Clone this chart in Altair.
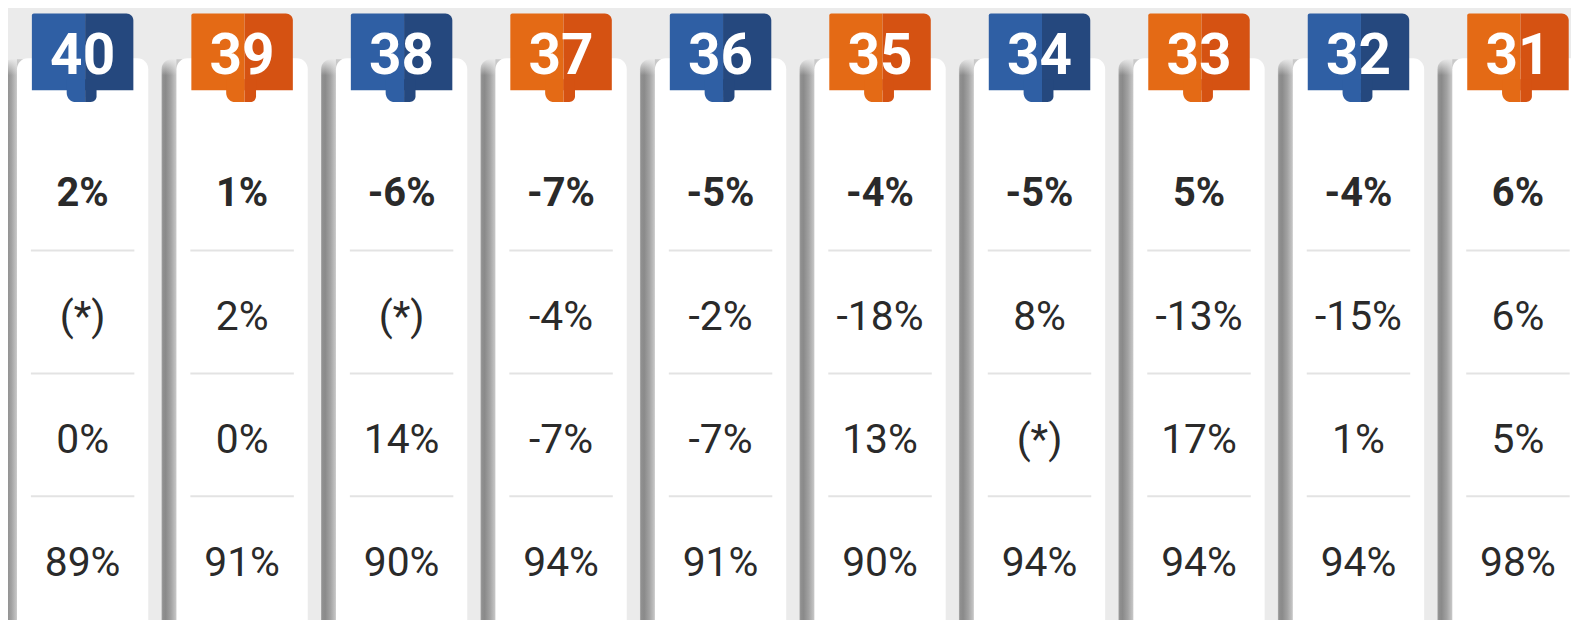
import altair as alt
import pandas as pd

# ---------------- data ----------------
weeks = [40, 39, 38, 37, 36, 35, 34, 33, 32, 31]
tab_kind = ["blue", "orange", "blue", "orange", "blue", "orange", "blue", "orange", "blue", "orange"]
row1 = ["2%", "1%", "-6%", "-7%", "-5%", "-4%", "-5%", "5%", "-4%", "6%"]
row2 = ["(*)", "2%", "(*)", "-4%", "-2%", "-18%", "8%", "-13%", "-15%", "6%"]
row3 = ["0%", "0%", "14%", "-7%", "-7%", "13%", "(*)", "17%", "1%", "5%"]
row4 = ["89%", "91%", "90%", "94%", "91%", "90%", "94%", "94%", "94%", "98%"]
rows = [row1, row2, row3, row4]

# ---------------- layout (pixels -> scale units) ----------------
W, H = 1571, 612
PITCH, X0 = 160.3, 75.0      # column pitch / centre of first column
ROWH, Y0 = 123.5, 183.0      # row pitch / centre of first row


def ux(px):
    return px / PITCH


def uy(py_chart):
    return (py_chart - Y0) / ROWH


xscale = alt.Scale(domain=[-X0 / PITCH, (W - X0) / PITCH], nice=False, zero=False)
yscale = alt.Scale(domain=[-Y0 / ROWH, (H - Y0) / ROWH], nice=False, zero=False, reverse=True)

light = {"blue": "#2f5fa4", "orange": "#e46a15"}
dark = {"blue": "#25487e", "orange": "#d55212"}

cols = pd.DataFrame({
    "i": list(range(len(weeks))),
    "week": [str(w) for w in weeks],
    "light": [light[k] for k in tab_kind],
    "dark": [dark[k] for k in tab_kind],
})

cells = pd.DataFrame([
    {"i": i, "r": r, "label": rows[r][i]}
    for r in range(len(rows)) for i in range(len(weeks))
])
seps = pd.DataFrame([{"i": i, "r": r} for r in range(3) for i in range(len(weeks))])

X = lambda f: alt.X(f, type="quantitative", scale=xscale, axis=None)
Y = lambda f: alt.Y(f, type="quantitative", scale=yscale, axis=None)

base = alt.Chart(cols)

card_top = uy(49)
bottom = uy(H + 40)

shadow = base.transform_calculate(
    x1=f"datum.i - {ux(81)}", x2=f"datum.i - {ux(60)}",
    y1=f"{uy(50)}", y2=f"{bottom}",
).mark_rect(
    cornerRadiusTopLeft=10,
    color=alt.LinearGradient(
        gradient="linear", x1=0, x2=1, y1=0, y2=0,
        stops=[
            alt.GradientStop(color="#b0b0b0", offset=0),
            alt.GradientStop(color="#909090", offset=0.06),
            alt.GradientStop(color="#8a8a8a", offset=0.2),
            alt.GradientStop(color="#a2a2a2", offset=0.45),
            alt.GradientStop(color="#c8c8c8", offset=0.71),
            alt.GradientStop(color="#cccccc", offset=1),
        ],
    ),
).encode(x=X("x1"), x2="x2:Q", y=Y("y1"), y2="y2:Q")

# soft fade over the top of the shadow
shadow_fade = base.transform_calculate(
    x1=f"datum.i - {ux(82)}", x2=f"datum.i - {ux(66)}",
    y1=f"{uy(49)}", y2=f"{uy(66)}",
).mark_rect(
    color=alt.LinearGradient(
        gradient="linear", x1=0, x2=0, y1=0, y2=1,
        stops=[
            alt.GradientStop(color="#ebebeb", offset=0),
            alt.GradientStop(color="rgba(235,235,235,0)", offset=1),
        ],
    ),
).encode(x=X("x1"), x2="x2:Q", y=Y("y1"), y2="y2:Q")

card = base.transform_calculate(
    x1=f"datum.i - {ux(66)}", x2=f"datum.i + {ux(66)}",
    y1=f"{card_top}", y2=f"{bottom}",
).mark_rect(color="#ffffff", cornerRadius=11).encode(
    x=X("x1"), x2="x2:Q", y=Y("y1"), y2="y2:Q")

sep = alt.Chart(seps).transform_calculate(
    x1=f"datum.i - {ux(52)}", x2=f"datum.i + {ux(52)}", y=f"datum.r + 0.48",
).mark_rule(color="#e3e3e3", strokeWidth=2).encode(
    x=X("x1"), x2="x2:Q", y=Y("y"))

tab_l = base.transform_calculate(
    x1=f"datum.i - {ux(51)}", x2=f"datum.i + {ux(2.5)}",
    y1=f"{uy(4)}", y2=f"{uy(81)}",
).mark_rect(cornerRadiusTopLeft=2).encode(
    x=X("x1"), x2="x2:Q", y=Y("y1"), y2="y2:Q",
    color=alt.Color("light:N", scale=None))

tab_r = base.transform_calculate(
    x1=f"datum.i + {ux(2.5)}", x2=f"datum.i + {ux(51)}",
    y1=f"{uy(4)}", y2=f"{uy(81)}",
).mark_rect(cornerRadiusTopRight=7).encode(
    x=X("x1"), x2="x2:Q", y=Y("y1"), y2="y2:Q",
    color=alt.Color("dark:N", scale=None))

tongue_l = base.transform_calculate(
    x1=f"datum.i - {ux(16)}", x2=f"datum.i + {ux(2.5)}",
    y1=f"{uy(70)}", y2=f"{uy(93)}",
).mark_rect(cornerRadiusBottomLeft=14).encode(
    x=X("x1"), x2="x2:Q", y=Y("y1"), y2="y2:Q",
    color=alt.Color("light:N", scale=None))

tongue_r = base.transform_calculate(
    x1=f"datum.i + {ux(2.5)}", x2=f"datum.i + {ux(14)}",
    y1=f"{uy(70)}", y2=f"{uy(93)}",
).mark_rect(cornerRadiusBottomRight=11).encode(
    x=X("x1"), x2="x2:Q", y=Y("y1"), y2="y2:Q",
    color=alt.Color("dark:N", scale=None))

week_txt = base.transform_calculate(
    x="datum.i", y=f"{uy(65)}",
).mark_text(font="Roboto", fontWeight="bold", fontSize=57, color="#ffffff",
            align="center", baseline="alphabetic").encode(
    x=X("x"), y=Y("y"), text="week:N")

cell_bold = alt.Chart(cells).transform_filter("datum.r == 0").transform_calculate(
    x="datum.i", y=f"datum.r + {14 / ROWH}",
).mark_text(font="Roboto", fontWeight="bold", fontSize=40, color="#2a2a2a",
            align="center", baseline="alphabetic").encode(
    x=X("x"), y=Y("y"), text="label:N")

cell_reg = alt.Chart(cells).transform_filter("datum.r > 0").transform_calculate(
    x="datum.i", y=f"datum.r + {15.5 / ROWH}",
).mark_text(font="Roboto", fontWeight="normal", fontSize=41, color="#2a2a2a",
            align="center", baseline="alphabetic").encode(
    x=X("x"), y=Y("y"), text="label:N")

chart = alt.layer(
    shadow, shadow_fade, card, sep, tab_l, tab_r, tongue_l, tongue_r,
    week_txt, cell_bold, cell_reg
).properties(
    width=W, height=H, padding=0, autosize=alt.AutoSizeParams(type="none"),
    background="#ebebeb",
).configure_view(stroke=None)

chart.save("out.html", embed_options={"renderer": "svg", "actions": False})
